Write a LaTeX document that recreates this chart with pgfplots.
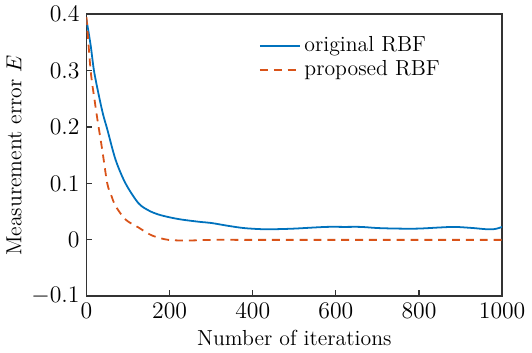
\documentclass[border=0pt]{standalone}
\usepackage{pgfplots}
\pgfplotsset{compat=1.18}
\definecolor{mblue}{RGB}{0,114,189}
\definecolor{mred}{RGB}{217,83,25}
\begin{document}
\begin{tikzpicture}
\begin{axis}[
  width=210pt, height=142.5pt, scale only axis,
  xmin=0, xmax=1000, ymin=-0.1, ymax=0.4,
  xtick={0,200,...,1000}, ytick={-0.1,0,0.1,0.2,0.3,0.4},
  yticklabels={$-0.1$,$0$,$0.1$,$0.2$,$0.3$,$0.4$},
  /pgf/number format/1000 sep={},
  ticklabel style={font=\fontsize{12}{14}\selectfont},
  label style={font=\fontsize{11}{13}\selectfont},
  tick align=inside, xtick pos=bottom, ytick pos=left,
  major tick length=3pt,
  axis line style={draw=black!80, line width=0.8pt},
  tick style={black!80, line width=0.6pt},
  xlabel={Number of iterations}, ylabel={Measurement error $E$},
  xlabel style={yshift=1pt}, ylabel style={yshift=-2pt},
  legend style={draw=none, fill=none, at={(0.4,0.95)}, anchor=north west, row sep=-1pt,
    font=\fontsize{11}{13}\selectfont},
  legend cell align=left,
  legend image code/.code={\draw[#1] (0pt,0pt) -- (20pt,0pt);},
]
\addplot[mblue, line width=0.9pt, smooth] coordinates {
(0,0.390) (10,0.345) (18,0.300) (30,0.255) (40,0.222) (50,0.196) (70,0.142)
(94,0.100) (125,0.065) (150,0.052) (173,0.045) (200,0.040) (229,0.036)
(272,0.032) (300,0.030) (340,0.025) (378,0.021) (420,0.019) (457,0.019) (500,0.020)
(576,0.023) (620,0.023) (660,0.023) (700,0.021) (750,0.020) (798,0.020)
(850,0.022) (886,0.023) (930,0.021) (960,0.019) (980,0.019) (992,0.021) (1000,0.023)
};
\addlegendentry{original RBF}
\addplot[mred, line width=0.9pt, dash pattern=on 4pt off 3pt, smooth] coordinates {
(0,0.395) (10,0.300) (20,0.245) (27,0.210) (38,0.159) (50,0.100) (60,0.078)
(70,0.060) (94,0.036) (125,0.022) (157,0.008) (197,0.000) (250,-0.001)
(300,0.000) (400,0.000) (500,0.000) (600,0.000) (700,0.000) (800,0.000)
(900,0.000) (1000,0.000)
};
\addlegendentry{proposed RBF}
\end{axis}
\end{tikzpicture}
\end{document}
